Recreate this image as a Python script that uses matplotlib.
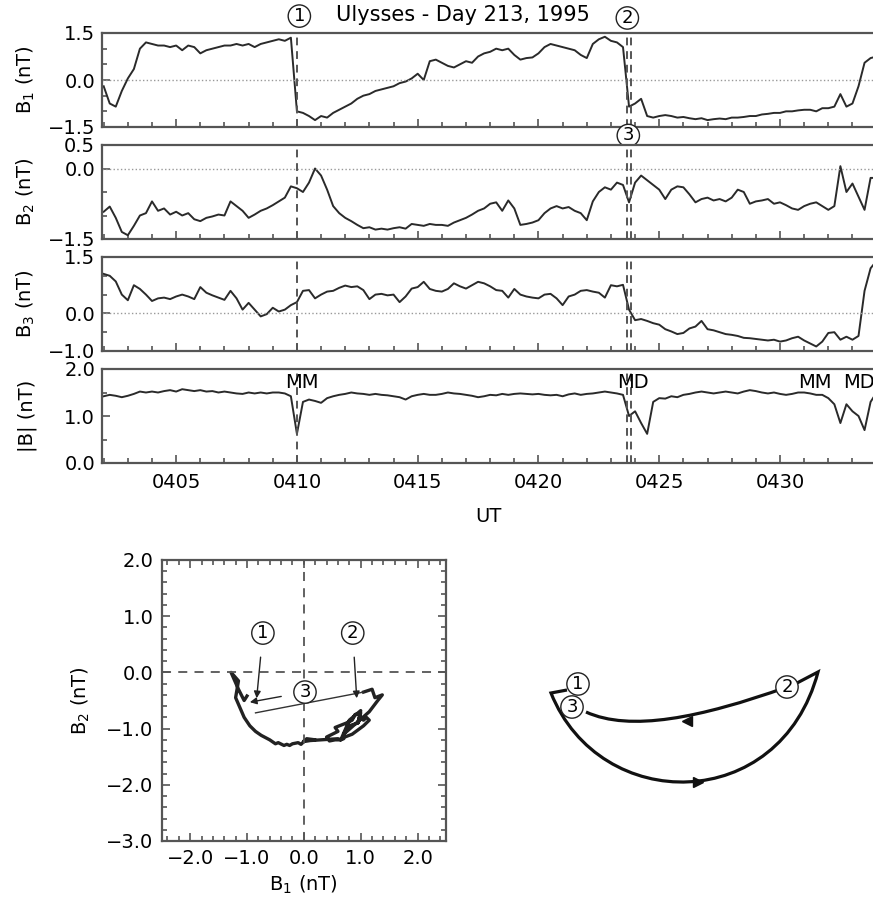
import numpy as np
import matplotlib.pyplot as plt
from matplotlib.path import Path
from matplotlib.patches import PathPatch
from matplotlib.ticker import MultipleLocator, FuncFormatter

plt.rcParams['font.family'] = 'DejaVu Sans'
plt.rcParams['font.size'] = 14
plt.rcParams['mathtext.default'] = 'regular'

# time in minutes after 0400 UT, one sample every 15 s
t = np.arange(2.0, 34.01, 0.25)

b1 = [-0.2, -0.75, -0.85, -0.35, 0.05, 0.35, 1.0, 1.2,
      1.15, 1.1, 1.1, 1.05, 1.1, 0.95, 1.1, 1.05,
      0.85, 0.95, 1.0, 1.05, 1.1, 1.1, 1.15, 1.1,
      1.15, 1.05, 1.15, 1.2, 1.25, 1.3, 1.25, 1.35,
      -1.0, -1.05, -1.15, -1.28, -1.15, -1.2, -1.05, -0.95,
      -0.85, -0.75, -0.6, -0.5, -0.45, -0.35, -0.3, -0.25,
      -0.2, -0.1, -0.05, 0.05, 0.2, 0.0, 0.6, 0.65,
      0.55, 0.45, 0.4, 0.5, 0.6, 0.55, 0.75, 0.85,
      0.9, 1.0, 0.95, 1.0, 0.8, 0.65, 0.7, 0.72,
      0.85, 1.05, 1.15, 1.1, 1.05, 1.0, 0.95, 0.8,
      0.7, 1.15, 1.3, 1.38, 1.25, 1.2, 1.05, -0.85,
      -0.75, -0.6, -1.15, -1.2, -1.15, -1.12, -1.15, -1.2,
      -1.18, -1.22, -1.25, -1.22, -1.28, -1.25, -1.23, -1.25,
      -1.2, -1.2, -1.18, -1.15, -1.15, -1.1, -1.08, -1.05,
      -1.05, -1.0, -1.0, -0.97, -0.95, -0.95, -1.0, -0.9,
      -0.9, -0.85, -0.45, -0.85, -0.75, -0.2, 0.55, 0.7,
      0.75]

b2 = [-0.92, -0.81, -1.05, -1.35, -1.42, -1.22, -1.0, -0.95,
      -0.7, -0.9, -0.85, -0.98, -0.92, -1.0, -0.95, -1.08,
      -1.12, -1.05, -1.02, -0.98, -1.0, -0.7, -0.8, -0.9,
      -1.05, -0.98, -0.9, -0.85, -0.78, -0.7, -0.62, -0.38,
      -0.42, -0.5, -0.3, 0.0, -0.15, -0.45, -0.8, -0.95,
      -1.05, -1.12, -1.2, -1.27, -1.25, -1.3, -1.28, -1.3,
      -1.27, -1.25, -1.28, -1.18, -1.2, -1.22, -1.18, -1.2,
      -1.2, -1.22, -1.15, -1.1, -1.05, -0.98, -0.9, -0.85,
      -0.75, -0.72, -0.9, -0.68, -0.85, -1.2, -1.18, -1.15,
      -1.1, -0.95, -0.85, -0.8, -0.85, -0.82, -0.9, -0.95,
      -1.1, -0.7, -0.5, -0.4, -0.45, -0.3, -0.35, -0.72,
      -0.3, -0.15, -0.25, -0.35, -0.45, -0.65, -0.45, -0.38,
      -0.4, -0.55, -0.72, -0.65, -0.62, -0.68, -0.65, -0.7,
      -0.62, -0.45, -0.5, -0.75, -0.7, -0.68, -0.65, -0.75,
      -0.72, -0.78, -0.85, -0.88, -0.8, -0.75, -0.72, -0.8,
      -0.88, -0.8, 0.05, -0.5, -0.32, -0.6, -0.88, -0.2,
      -0.2]

b3 = [1.05, 1.0, 0.85, 0.5, 0.35, 0.75, 0.65, 0.5,
      0.33, 0.4, 0.42, 0.38, 0.45, 0.5, 0.45, 0.38,
      0.7, 0.55, 0.48, 0.42, 0.36, 0.6, 0.4, 0.1,
      0.28, 0.1, -0.08, -0.02, 0.15, 0.05, 0.1, 0.22,
      0.3, 0.6, 0.62, 0.4, 0.5, 0.58, 0.6, 0.68,
      0.74, 0.7, 0.72, 0.62, 0.38, 0.5, 0.52, 0.48,
      0.5, 0.3, 0.45, 0.66, 0.7, 0.84, 0.65, 0.6,
      0.58, 0.65, 0.8, 0.72, 0.66, 0.75, 0.84, 0.8,
      0.72, 0.62, 0.6, 0.42, 0.65, 0.5, 0.45, 0.42,
      0.4, 0.5, 0.52, 0.4, 0.22, 0.45, 0.5, 0.6,
      0.62, 0.58, 0.55, 0.42, 0.75, 0.72, 0.76, 0.1,
      -0.18, -0.15, -0.2, -0.26, -0.3, -0.42, -0.48, -0.55,
      -0.52, -0.4, -0.35, -0.2, -0.42, -0.45, -0.5, -0.55,
      -0.57, -0.6, -0.65, -0.66, -0.68, -0.7, -0.72, -0.7,
      -0.75, -0.72, -0.66, -0.62, -0.72, -0.8, -0.88, -0.75,
      -0.52, -0.5, -0.7, -0.62, -0.7, -0.6, 0.6, 1.2,
      1.4]

bmag = [1.42, 1.45, 1.43, 1.4, 1.43, 1.47, 1.52, 1.5,
        1.52, 1.5, 1.53, 1.55, 1.52, 1.57, 1.55, 1.53,
        1.55, 1.52, 1.53, 1.5, 1.52, 1.5, 1.48, 1.47,
        1.5, 1.48, 1.5, 1.48, 1.5, 1.5, 1.48, 1.42,
        0.62, 1.3, 1.35, 1.32, 1.28, 1.38, 1.42, 1.45,
        1.47, 1.5, 1.48, 1.47, 1.45, 1.47, 1.45, 1.44,
        1.42, 1.4, 1.35, 1.42, 1.45, 1.47, 1.45, 1.45,
        1.47, 1.5, 1.48, 1.47, 1.45, 1.43, 1.4, 1.42,
        1.45, 1.44, 1.47, 1.45, 1.47, 1.48, 1.47, 1.46,
        1.47, 1.45, 1.44, 1.45, 1.42, 1.46, 1.48, 1.45,
        1.47, 1.48, 1.5, 1.52, 1.5, 1.48, 1.45, 1.0,
        1.1, 0.85, 0.62, 1.3, 1.38, 1.37, 1.42, 1.4,
        1.45, 1.47, 1.5, 1.52, 1.5, 1.48, 1.5, 1.52,
        1.5, 1.48, 1.52, 1.55, 1.53, 1.5, 1.48, 1.5,
        1.47, 1.45, 1.47, 1.5, 1.5, 1.48, 1.45, 1.45,
        1.38, 1.25, 0.85, 1.25, 1.1, 1.0, 0.7, 1.3,
        1.5]

# event times (min after 0400): 1 at 0410, 2 and 3 at ~0423.7
events = [10.0, 23.65, 23.82]
mm_md = [('MM', 10.2), ('MD', 23.9), ('MM', 31.45), ('MD', 33.25)]
xticks = [5, 10, 15, 20, 25, 30]
xlabels = ['0405', '0410', '0415', '0420', '0425', '0430']

W, H = 873, 909
fig = plt.figure(figsize=(W / 100, H / 100), dpi=100)


def px_axes(x0, y0, x1, y1):
    return fig.add_axes([x0 / W, 1 - y1 / H, (x1 - x0) / W, (y1 - y0) / H])


fmt = FuncFormatter(lambda v, p: f'{v:.1f}'.replace('-', '\u2212'))
fg = '#2a2a2a'
frame = '#555555'

panels = [
    (b1, 'B$_1$ (nT)', (-1.5, 1.5), [-1.5, 0.0, 1.5], (33, 127)),
    (b2, 'B$_2$ (nT)', (-1.5, 0.5), [-1.5, 0.0, 0.5], (145, 239)),
    (b3, 'B$_3$ (nT)', (-1.0, 1.5), [-1.0, 0.0, 1.5], (257, 351)),
    (bmag, '|B| (nT)', (0.0, 2.0), [0.0, 1.0, 2.0], (369, 463)),
]
axes = []
for k, (y, lab, ylim, yt, (top, bot)) in enumerate(panels):
    ax = px_axes(102, top, 873, bot)
    ax.plot(t, y, color=fg, lw=1.4)
    ax.set_xlim(1.93, 33.85)
    ax.set_ylim(*ylim)
    ax.set_yticks(yt)
    ax.yaxis.set_major_formatter(fmt)
    ax.yaxis.set_minor_locator(MultipleLocator(0.5))
    ax.set_xticks(xticks)
    ax.xaxis.set_minor_locator(MultipleLocator(1))
    ax.tick_params(which='both', direction='in', top=False, right=False,
                   color=frame, width=1.2, pad=5)
    ax.tick_params(which='major', length=6)
    ax.tick_params(which='minor', length=3.5)
    for s in ax.spines.values():
        s.set_linewidth(1.6)
        s.set_color(frame)
    ax.spines['right'].set_visible(False)
    if k < 3:
        ax.axhline(0, color='#999999', ls=':', lw=1)
        ax.tick_params(labelbottom=False)
    for e in events:
        ax.axvline(e, color=frame, ls=(0, (4, 3)), lw=1.4)
    ax.set_ylabel(lab)
    ax.yaxis.set_label_coords(-0.084, 0.5)
    axes.append(ax)

ax4 = axes[3]
ax4.set_xticklabels(xlabels)
ax4.tick_params(axis='x', pad=7)
for txt, x in mm_md:
    ax4.text(x, 1.72, txt, ha='center', va='center', fontsize=14)
fig.text(488 / W, 1 - 517 / H, 'UT', ha='center', va='center', fontsize=14)
fig.text(463 / W, 1 - 15 / H, 'Ulysses - Day 213, 1995', ha='center',
         va='center', fontsize=15)

circ = dict(boxstyle='circle,pad=0.12', fc='white', ec='#222222', lw=1)
ax1 = axes[0]
for txt, x, yf in [('1', 10.1, 1.18), ('2', 23.68, 1.16), ('3', 23.72, -0.09)]:
    ax1.text(x, yf, txt, transform=ax1.get_xaxis_transform(), ha='center',
             va='center', fontsize=13, bbox=circ, zorder=5, clip_on=False)

# hodogram of B1 vs B2 between events 1 and 3
i1 = int(np.argmin(np.abs(t - 10.0)))
i2 = int(np.argmin(np.abs(t - 23.5)))
hx = px_axes(161.7, 560, 446, 841)
hx.plot(b1[i1:i2 + 1], b2[i1:i2 + 1], color='#222222', lw=2.4)
hx.plot(b1[i2:i2 + 2], b2[i2:i2 + 2], color='#333333', lw=1.0)
hx.axhline(0, color=frame, ls=(0, (5, 4)), lw=1.3)
hx.axvline(0, color=frame, ls=(0, (5, 4)), lw=1.3)
hx.set_xlim(-2.5, 2.5)
hx.set_ylim(-3.0, 2.0)
hx.xaxis.set_major_locator(MultipleLocator(1))
hx.yaxis.set_major_locator(MultipleLocator(1))
hx.xaxis.set_minor_locator(MultipleLocator(0.2))
hx.yaxis.set_minor_locator(MultipleLocator(0.2))
hx.xaxis.set_major_formatter(fmt)
hx.yaxis.set_major_formatter(fmt)
hx.tick_params(which='both', direction='in', top=True, right=True,
               color=frame, width=1.2, pad=6)
hx.tick_params(which='major', length=6)
hx.tick_params(which='minor', length=3.5)
for s in hx.spines.values():
    s.set_linewidth(1.6)
    s.set_color(frame)
hx.set_xlabel('B$_1$ (nT)')
hx.xaxis.set_label_coords(0.5, -0.115)
hx.set_ylabel('B$_2$ (nT)')
hx.yaxis.set_label_coords(-0.245, 0.5)

arr = dict(arrowstyle='-|>', color='#222222', lw=1, mutation_scale=10,
           shrinkA=9, shrinkB=0)
for txt, tip, pos in [('1', (-0.83, -0.46), (-0.72, 0.7)),
                      ('2', (0.93, -0.46), (0.86, 0.7)),
                      ('3', (-0.95, -0.53), (0.02, -0.35))]:
    hx.annotate(txt, xy=tip, xytext=pos, ha='center', va='center',
                fontsize=13, bbox=circ, arrowprops=arr)

# schematic of the rotation, drawn in pixel units
sk_upper = [(787, 687), (700, 718), (630, 732), (586, 712)]
sk_lower = [(797, 683), (818, 672), (780, 815), (600, 815), (551, 693), (567, 690)]
sx = px_axes(520, 580, 873, 830)
sx.set_xlim(520, 873)
sx.set_ylim(830, 580)
sx.axis('off')
sx.add_patch(PathPatch(Path(sk_upper, [Path.MOVETO] + [Path.CURVE4] * 3),
                       fill=False, lw=2.3, ec='#111111'))
sx.add_patch(PathPatch(Path(sk_lower, [Path.MOVETO, Path.LINETO] +
                            [Path.CURVE4] * 3 + [Path.LINETO]),
                       fill=False, lw=2.3, ec='#111111'))
sx.plot([687], [721], marker='<', ms=7, color='#111111')
sx.plot([698], [782], marker='>', ms=7, color='#111111')
for txt, xy in [('1', (578, 684)), ('3', (572, 707)), ('2', (787, 687))]:
    sx.text(*xy, txt, ha='center', va='center', fontsize=13, bbox=circ,
            zorder=5)

fig.savefig('out.png', dpi=100)
